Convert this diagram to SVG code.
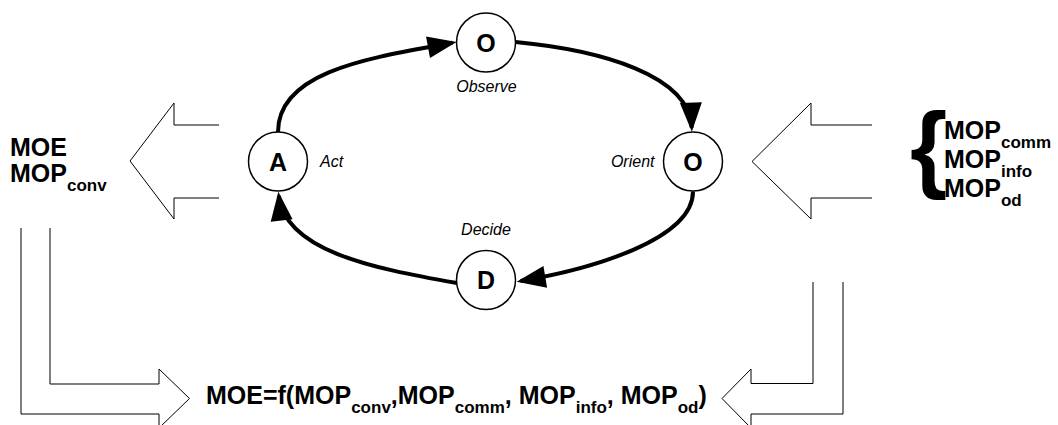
<svg xmlns="http://www.w3.org/2000/svg" width="1058" height="425" viewBox="0 0 1058 425">
  <defs>
    <style>
      .t { font-family: "Liberation Sans", Arial, sans-serif; fill: #000; }
      .big { font-weight: bold; font-size: 25px; }
      .sub { font-size: 17px; }
      .it { font-style: italic; font-size: 16px; }
      .node circle { fill: #fff; stroke: #000; stroke-width: 1.5; }
      .letter { font-weight: bold; font-size: 25px; text-anchor: middle; }
      .conn { fill: none; stroke: #000; stroke-width: 4; marker-end: url(#head); }
      .flow { fill: none; stroke: #000; stroke-width: 1; }
    </style>
    <marker id="head" markerUnits="userSpaceOnUse" viewBox="0 0 29 22" markerWidth="29" markerHeight="22" refX="25" refY="11" orient="auto" overflow="visible">
      <path d="M0,0 L29,11 L0,22 z" fill="#000"/>
    </marker>
  </defs>
  <rect width="1058" height="425" fill="#fff"/>

  <!-- hollow block arrows feeding the loop and the formula -->
  <g id="flows">
    <polyline class="flow" points="219,125 174,125 174,103 130,161 174,219 174,198 219,198"/>
    <polyline class="flow" points="872,125 811,125 811,103 752,161.5 811,219 811,198 872,198"/>
    <polyline class="flow" points="50,228 50,384 159,384 159,369 189.5,398.5 159,428 159,414 21,414 21,228"/>
    <polyline class="flow" points="813,282 813,383.5 751,383.5 751,369 722,398.5 751,428 751,414 843,414 843,282"/>
  </g>

  <!-- OODA loop connectors -->
  <g id="connectors">
    <path class="conn" d="M278,132 C278,70 374,57.3 452.6,42.7"/>
    <path class="conn" d="M515.5,42 C600,50 690,75 691.7,127.7"/>
    <path class="conn" d="M693,191.5 C693,240 589.6,269.4 520.6,281"/>
    <path class="conn" d="M457,283 C370,268 285,250 278.8,195.7"/>
  </g>

  <g id="node-observe" class="node">
    <circle cx="486" cy="42.5" r="29.5"/>
    <text class="t letter" x="486" y="51.5">O</text>
    <text class="t it" x="486.5" y="91.5" text-anchor="middle">Observe</text>
  </g>
  <g id="node-orient" class="node">
    <circle cx="693" cy="161.5" r="29.5"/>
    <text class="t letter" x="693" y="170.5">O</text>
    <text class="t it" x="654.5" y="166.5" text-anchor="end">Orient</text>
  </g>
  <g id="node-decide" class="node">
    <circle cx="486" cy="280" r="29.5"/>
    <text class="t letter" x="486" y="289">D</text>
    <text class="t it" x="486" y="235" text-anchor="middle">Decide</text>
  </g>
  <g id="node-act" class="node">
    <circle cx="278" cy="161.5" r="29.5"/>
    <text class="t letter" x="278" y="170.5">A</text>
    <text class="t it" x="320" y="166.5">Act</text>
  </g>

  <!-- outputs on the left -->
  <g id="outputs">
    <text class="t big" x="10" y="155.5">MOE</text>
    <text class="t big" x="10" y="182">MOP<tspan class="sub" dy="9">conv</tspan></text>
  </g>

  <!-- inputs on the right -->
  <g id="inputs">
    <text class="t" x="910" y="180" style="font-weight:bold;font-size:96px">{</text>
    <text class="t big" x="944" y="138.5">MOP<tspan class="sub" dy="9.5">comm</tspan></text>
    <text class="t big" x="944" y="167.5">MOP<tspan class="sub" dy="9">info</tspan></text>
    <text class="t big" x="944" y="196.5">MOP<tspan class="sub" dy="9">od</tspan></text>
  </g>

  <!-- combined measure -->
  <g id="formula">
    <text class="t big" x="206" y="404">MOE=f(MOP<tspan class="sub" dy="9">conv</tspan><tspan dy="-9">,MOP</tspan><tspan class="sub" dy="9">comm</tspan><tspan dy="-9">, MOP</tspan><tspan class="sub" dy="9">info</tspan><tspan dy="-9">, MOP</tspan><tspan class="sub" dy="9">od</tspan><tspan dy="-9">)</tspan></text>
  </g>
</svg>
